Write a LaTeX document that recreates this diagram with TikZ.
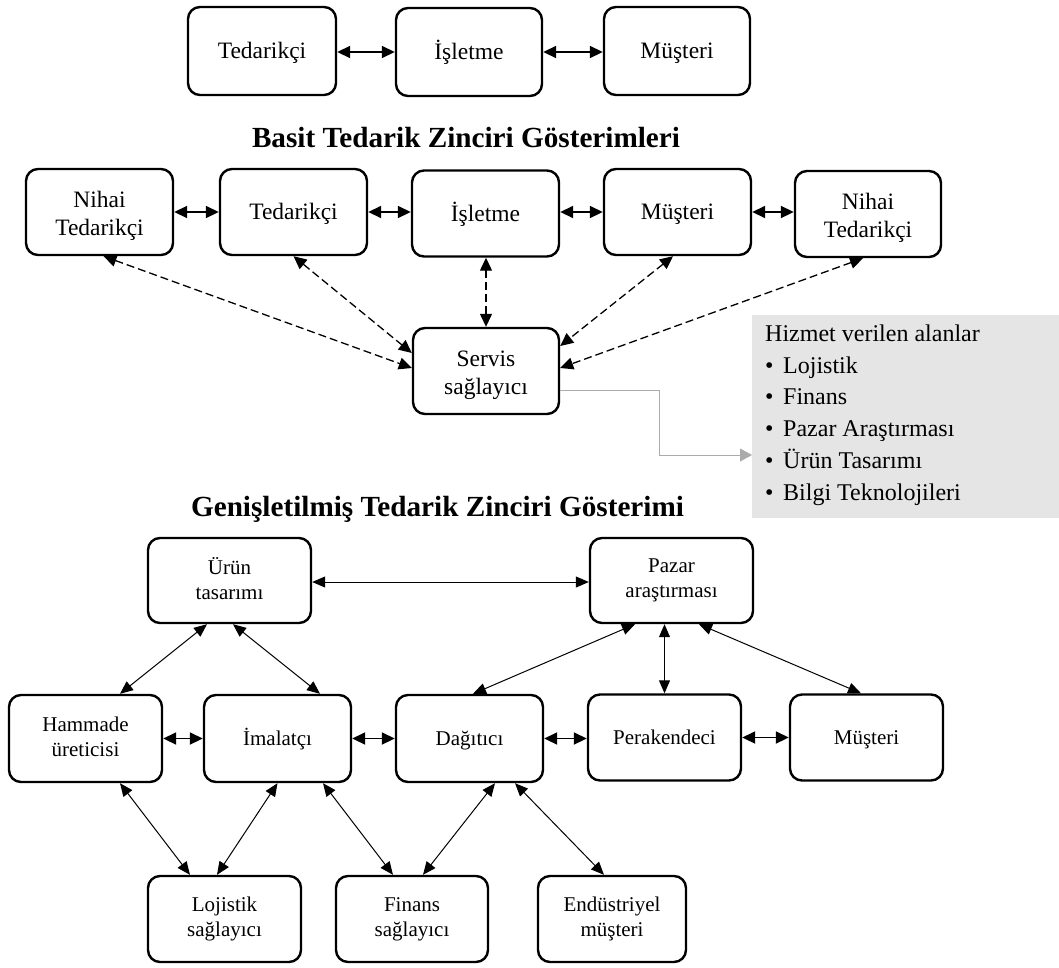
\documentclass[tikz,border=0pt]{standalone}
\usepackage{fontspec}
\setmainfont{Liberation Serif}
\usetikzlibrary{arrows.meta}
% invisible rule giving every label line the full ascent/descent of the font
\newcommand{\boxstrut}{\rule[-0.216em]{0pt}{1.107em}}
% a label line set a little lower without changing its reported size
\newcommand{\dn}[1]{\raisebox{-4pt}[\height][\depth]{#1}}
\begin{document}
\begin{tikzpicture}[x=1pt,y=-1pt,
  box/.style={draw, line width=2.4pt, rounded corners=12pt, align=center,
    inner sep=0pt, font=\fontsize{23.5}{28}\selectfont,
    execute at begin node=\boxstrut, execute at end node=\boxstrut},
  sbox/.style={box, font=\fontsize{21}{25}\selectfont},
  heading/.style={anchor=base, inner sep=0pt, font=\fontsize{29.2}{34}\selectfont\bfseries},
  thick link/.style={{Triangle[length=13pt,width=12pt]}-{Triangle[length=13pt,width=12pt]}, line width=1.8pt},
  dash link/.style={{Triangle[length=13pt,width=12pt]}-{Triangle[length=13pt,width=12pt]}, line width=1.3pt, dash pattern=on 8pt off 4pt},
  thin link/.style={{Triangle[length=13pt,width=11pt]}-{Triangle[length=13pt,width=11pt]}, line width=1pt},
  gray link/.style={-{Triangle[length=12pt,width=13pt]}, line width=1pt, draw=black!33, color=black!33}
]
\useasboundingbox (0,0) rectangle (1059,967);

% ---- simple chain ----
\node[box, minimum width=148pt, minimum height=88pt] (t1) at (262,51) {Tedarikçi};
\node[box, minimum width=146pt, minimum height=88pt] (t2) at (469,52) {İşletme};
\node[box, minimum width=146pt, minimum height=88pt] (t3) at (677,51) {Müşteri};
\draw[thick link] (t1.east |- t2.west) -- (t2.west);
\draw[thick link] (t2.east) -- (t2.east -| t3.west);

\node[heading] (h1) at (466,147) {Basit Tedarik Zinciri Gösterimleri};

% ---- extended chain with service provider ----
\node[box, minimum width=147pt, minimum height=86pt] (n1) at (99.5,212) {\dn{Nihai}\\\dn{Tedarikçi}};
\node[box, minimum width=147pt, minimum height=86pt] (n2) at (293.5,212) {Tedarikçi};
\node[box, minimum width=147pt, minimum height=86pt] (n3) at (485.5,213.5) {İşletme};
\node[box, minimum width=147pt, minimum height=86pt] (n4) at (677.5,212) {Müşteri};
\node[box, minimum width=146pt, minimum height=86pt] (n5) at (868,214) {\dn{Nihai}\\\dn{Tedarikçi}};
\node[box, minimum width=146pt, minimum height=86pt] (srv) at (486,371) {\dn{Servis}\\\dn{sağlayıcı}};

\draw[thick link] (n1.east) -- (n1.east -| n2.west);
\draw[thick link] (n2.east) -- (n2.east -| n3.west);
\draw[thick link] (n3.east |- n4.west) -- (n4.west);
\draw[thick link] (n4.east) -- (n4.east -| n5.west);

\draw[dash link] ([xshift=4pt]n1.south) -- ([yshift=3pt]srv.west);
\draw[dash link] (n2.south) -- ([yshift=18pt]srv.west);
\draw[dash link] (n3.south -| srv.north) -- (srv.north);
\draw[dash link] ([xshift=-4.5pt]n4.south) -- ([yshift=25pt]srv.east);
\draw[dash link] ([xshift=-5pt]n5.south) -- ([yshift=3pt]srv.east);

% service areas panel
\node[fill=black!10, draw=none, anchor=north west, minimum width=307pt,
  minimum height=203pt, inner sep=0pt] (svc) at (752,315) {};
\node[anchor=west, align=left, inner sep=0pt, font=\fontsize{24}{31.8}\selectfont]
  (svctext) at (765,415) {Hizmet verilen alanlar\\
  \makebox[18pt][l]{•}Lojistik\\
  \makebox[18pt][l]{•}Finans\\
  \makebox[18pt][l]{•}Pazar Araştırması\\
  \makebox[18pt][l]{•}Ürün Tasarımı\\
  \makebox[18pt][l]{•}Bilgi Teknolojileri};
\coordinate (gb) at (659,455);
\draw[gray link] ([yshift=-19pt]srv.east) -| (gb) -- (gb -| svc.west);

\node[heading] (h2) at (437.5,516) {Genişletilmiş Tedarik Zinciri Gösterimi};

% ---- detailed network ----
\node[sbox, minimum width=163pt, minimum height=85pt] (ur) at (229.5,580.5) {Ürün\\tasarımı};
\node[sbox, minimum width=163pt, minimum height=85pt] (pz) at (671.5,580.5) {Pazar\\araştırması};
\node[sbox, minimum width=153pt, minimum height=87pt] (hm) at (85.5,738.5) {Hammade\\üreticisi};
\node[sbox, minimum width=147pt, minimum height=87pt] (im) at (277.5,738.5) {İmalatçı};
\node[sbox, minimum width=147pt, minimum height=87pt] (dg) at (469.5,738.5) {Dağıtıcı};
\node[sbox, minimum width=153pt, minimum height=86pt] (pk) at (664.5,737.5) {Perakendeci};
\node[sbox, minimum width=153pt, minimum height=86pt] (mu) at (866.5,737.5) {Müşteri};
\node[sbox, minimum width=153pt, minimum height=86pt] (lj) at (224.5,919) {Lojistik\\sağlayıcı};
\node[sbox, minimum width=152pt, minimum height=86pt] (fn) at (412,919) {Finans\\sağlayıcı};
\node[sbox, minimum width=148pt, minimum height=86pt] (en) at (612,919) {Endüstriyel\\müşteri};

\draw[thin link] ([yshift=-1.5pt]ur.east) -- ([yshift=-1.5pt]pz.west);
\draw[thin link] ([xshift=34.5pt]hm.north) -- ([xshift=-22.5pt]ur.south);
\draw[thin link] ([xshift=3.5pt]ur.south) -- ([xshift=42.5pt]im.north);
\draw[thin link] ([xshift=-36.5pt]pz.south) -- ([xshift=3.5pt]dg.north);
\draw[thin link] (pz.south -| pk.north) -- (pk.north);
\draw[thin link] ([xshift=27.5pt]pz.south) -- ([xshift=-5.5pt]mu.north);

\draw[thick link] (hm.east) -- (hm.east -| im.west);
\draw[thick link] (im.east) -- (im.east -| dg.west);
\draw[thick link] (dg.east) -- (dg.east -| pk.west);
\draw[thick link] (pk.east) -- (pk.east -| mu.west);

\draw[thin link] ([xshift=34.5pt]hm.south) -- ([xshift=-34.5pt]lj.north);
\draw[thin link] (im.south) -- ([xshift=-7.5pt]lj.north);
\draw[thin link] ([xshift=45.5pt]im.south) -- ([xshift=-19pt]fn.north);
\draw[thin link] ([xshift=25.5pt]dg.south) -- ([xshift=11pt]fn.north);
\draw[thin link] ([xshift=45.5pt]dg.south) -- ([xshift=-8pt]en.north);
\end{tikzpicture}
\end{document}
